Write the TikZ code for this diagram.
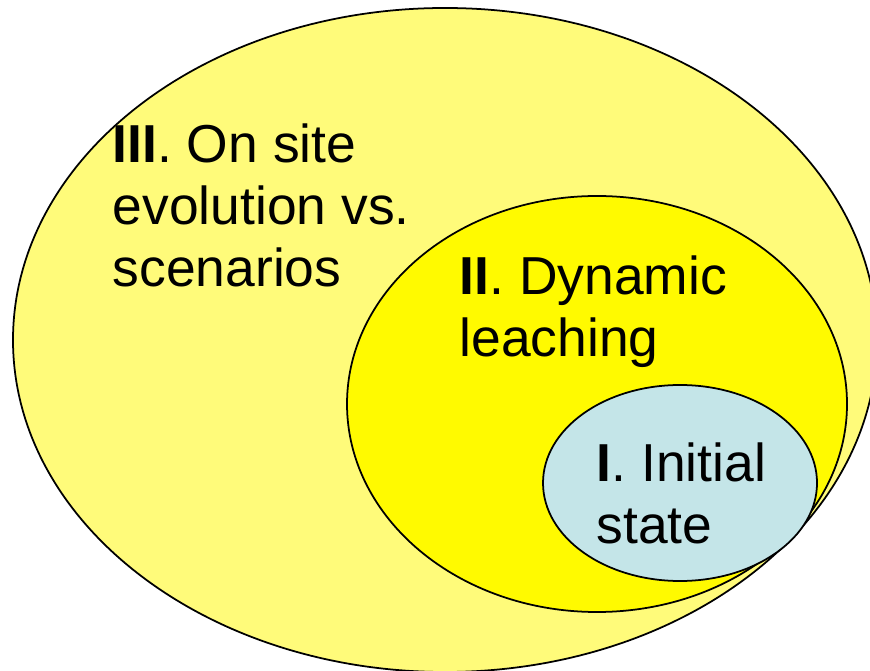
\documentclass[tikz,border=0pt]{standalone}
\usepackage{fontspec}
\setmainfont{Liberation Sans}
\usetikzlibrary{shapes.geometric}
\definecolor{paleyellow}{RGB}{255,251,122}
\definecolor{fullyellow}{RGB}{255,250,0}
\definecolor{paleblue}{RGB}{196,229,232}
\tikzset{zone/.style={ellipse,draw,line width=0.5pt,inner sep=0pt},
         zonetext/.style={anchor=north west,inner sep=0pt,align=left,
                          font=\fontsize{15.2pt}{17.7pt}\selectfont},
        }

\begin{document}
\begin{tikzpicture}
        \useasboundingbox (0,0) rectangle (8.7,6.7);
        \node[zone, fill=paleyellow, minimum width=8.64cm, minimum height=6.64cm](z3)at(4.45,3.30){};
        \node[zone, fill=fullyellow, minimum width=5.00cm, minimum height=4.16cm](z2)at(5.97,2.66){};
        \node[zone, fill=paleblue, minimum width=2.74cm, minimum height=1.96cm](z1)at(6.80,1.87){};

        \node[zonetext](t3)at(1.12,5.47){\textbf{III}. On site\\evolution vs.\\scenarios};
        \node[zonetext](t2)at(4.59,4.15){\textbf{II}. Dynamic\\leaching};
        \node[zonetext](t1)at(5.96,2.28){\textbf{I}. Initial\\state};
    \end{tikzpicture}
\end{document}
